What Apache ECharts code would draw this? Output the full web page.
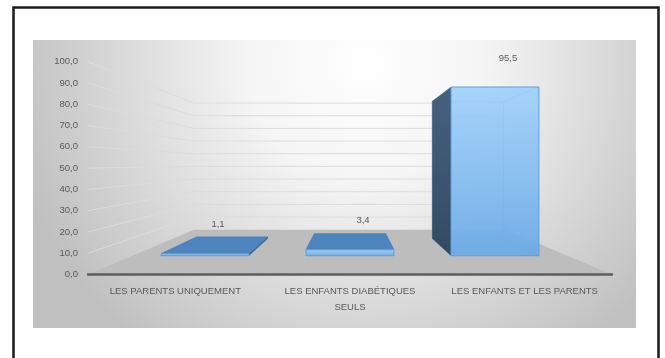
<!DOCTYPE html>
<html>
<head>
<meta charset="utf-8">
<script src="https://cdn.jsdelivr.net/npm/echarts@6/dist/echarts.min.js"></script>
<style>html,body{margin:0;padding:0;background:#fff}#c{width:665px;height:358px}</style>
</head>
<body>
<div id="c"></div>
<script>
const categories = ['LES PARENTS UNIQUEMENT', 'LES ENFANTS DIABÉTIQUES\nSEULS', 'LES ENFANTS ET LES PARENTS'];
const values = [1.1, 3.4, 95.5];
const yTicks = [0, 10, 20, 30, 40, 50, 60, 70, 80, 90, 100];

const FONT = "'Liberation Sans', Arial, sans-serif";
const SF = 0.83, SB = 0.675, SW = 0.595;
function projector(cs) {
  const vx = cs.x + cs.width * 0.5, vy = cs.y + cs.height * 0.48;
  return { vx, vy, p: (pt, s) => [vx + (pt[0] - vx) * s, vy + (pt[1] - vy) * s] };
}
const fmt = v => v.toFixed(1).replace('.', ',');

const chart = echarts.init(document.getElementById('c'), null, { renderer: 'canvas' });
chart.setOption({
  animation: false,
  backgroundColor: '#ffffff',
  graphic: [
    { type: 'rect', z: -100, shape: { x: 13.5, y: 7.5, width: 645, height: 400 }, style: { fill: '#fff', stroke: '#1a1a1a', lineWidth: 2.5 } },
    { type: 'rect', z: -99, shape: { x: 33, y: 40, width: 603, height: 288 },
      style: { fill: new echarts.graphic.RadialGradient(0.55, 0.08, 1.25, [
        { offset: 0, color: '#ffffff' }, { offset: 0.33, color: '#f5f5f5' }, { offset: 0.78, color: '#d1d1d1' }, { offset: 1, color: '#c0c0c0' }]) } }
  ],
  grid: { left: 88, right: 53, top: 61.7, bottom: 83.5, containLabel: false },
  xAxis: {
    type: 'category', data: categories, z: 5,
    axisLine: { show: true, lineStyle: { color: '#5e5e5e', width: 2.5 } },
    axisTick: { show: false },
    axisLabel: { color: '#595959', fontSize: 9.5, fontFamily: FONT, lineHeight: 16, margin: 9, interval: 0 }
  },
  yAxis: {
    type: 'value', min: yTicks[0], max: yTicks[yTicks.length - 1], interval: 10,
    axisLine: { show: false }, axisTick: { show: false }, splitLine: { show: false },
    axisLabel: { color: '#595959', fontSize: 9.5, fontFamily: FONT, margin: 10, formatter: fmt }
  },
  series: [
    {
      type: 'custom', z: 1, data: yTicks.slice(1).map(v => [0, v]), silent: true,
      renderItem: (params, api) => {
        const cs = params.coordSys; const P = projector(cs);
        const y = api.coord([0, api.value(1)])[1];
        const f = [cs.x, y], bl = P.p(f, SW), br = P.p([cs.x + cs.width, y], SW);
        return { type: 'polyline', shape: { points: [f, bl, br] }, style: { stroke: '#dcdcdc', lineWidth: 1, fill: null } };
      }
    },
    {
      type: 'custom', z: 1, data: [[0, 0]], silent: true,
      renderItem: (params, api) => {
        const cs = params.coordSys; const P = projector(cs);
        const y = api.coord([0, 0])[1];
        const fl = [cs.x, y], fr = [cs.x + cs.width, y];
        return { type: 'polygon', shape: { points: [fl, P.p(fl, SW), P.p(fr, SW), fr] }, style: { fill: '#bdbdbd' } };
      }
    },
    {
      type: 'custom', z: 2, data: values.map((v, i) => [i, v]), silent: true,
      renderItem: (params, api) => {
        const cs = params.coordSys; const P = projector(cs);
        const i = api.value(0), v = api.value(1);
        const c0 = api.coord([i, 0]), c1 = api.coord([i, v]);
        const hw = api.size([1, 0])[0] * 0.303;
        const xl = c0[0] - hw, xr = c0[0] + hw;
        const LB = [xl, c0[1]], RB = [xr, c0[1]], LT = [xl, c1[1]], RT = [xr, c1[1]];
        const f = pt => P.p(pt, SF), b = pt => P.p(pt, SB);
        const children = [];
        const edge = '#4f92d2';
        children.push({ type: 'polygon', shape: { points: [b(LB), b(RB), b(RT), b(LT)] }, style: { fill: null, stroke: edge, lineWidth: 1, opacity: 0.55 } });
        [LB, RB, RT, LT].forEach(pt => children.push({ type: 'line', shape: { x1: f(pt)[0], y1: f(pt)[1], x2: b(pt)[0], y2: b(pt)[1] }, style: { stroke: edge, lineWidth: 1, opacity: 0.55 } }));
        if (c1[1] > P.vy) {
          children.push({ type: 'polygon', shape: { points: [f(LT), f(RT), b(RT), b(LT)] }, style: { fill: '#4e84bd', stroke: '#4a7fb8', lineWidth: 0.5 } });
        }
        if (xr < P.vx) {
          children.push({ type: 'polygon', shape: { points: [f(RT), b(RT), b(RB), f(RB)] }, style: { fill: '#3f6690' } });
        }
        if (xl > P.vx) {
          children.push({ type: 'polygon', shape: { points: [f(LT), b(LT), b(LB), f(LB)] },
            style: { fill: new echarts.graphic.LinearGradient(0, 0, 0, 1, [{ offset: 0, color: '#46617f' }, { offset: 1, color: '#344a62' }]) } });
        }
        children.push({ type: 'polygon', shape: { points: [f(LB), f(RB), f(RT), f(LT)] },
          style: { fill: new echarts.graphic.LinearGradient(0, 0, 0, 1, [{ offset: 0, color: 'rgba(158,208,250,0.9)' }, { offset: 1, color: 'rgba(106,170,232,0.92)' }]), stroke: '#5c9fdc', lineWidth: 1 } });
        const top = f([c0[0], c1[1]]);
        children.push({ type: 'text', style: { text: fmt(v), x: top[0] + 13, y: top[1] - 29, align: 'center', verticalAlign: 'middle', fill: '#595959', fontSize: 9.5, fontFamily: FONT } });
        return { type: 'group', children };
      }
    }
  ]
});
</script>
</body>
</html>
